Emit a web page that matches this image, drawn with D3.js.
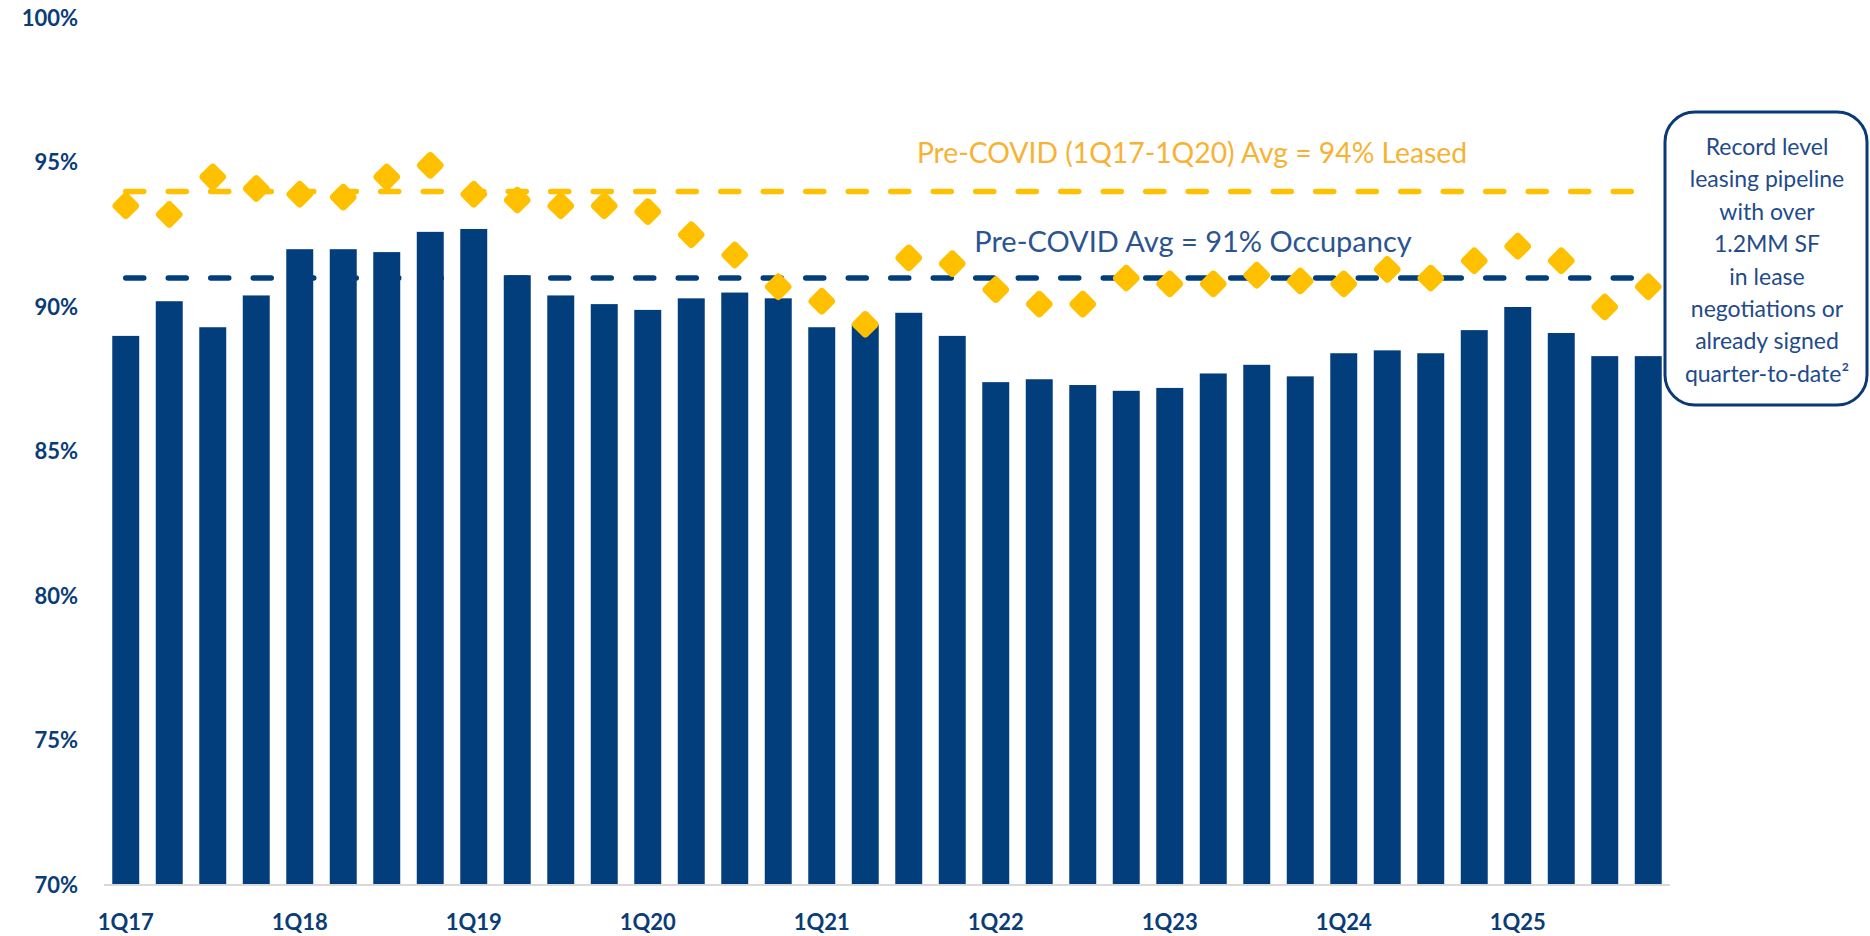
<!DOCTYPE html>
<html>
<head>
<meta charset="utf-8">
<script src="https://cdn.jsdelivr.net/npm/d3@7"></script>
<style>
  body { margin: 0; background: #fff; }
  svg { display: block; font-family: Lato, "Open Sans", sans-serif; }
</style>
</head>
<body>
<div id="chart"></div>
<script>
// Quarters 1Q17 .. 4Q25
const years = ["17", "18", "19", "20", "21", "22", "23", "24", "25"];
const quarters = [];
years.forEach(y => [1, 2, 3, 4].forEach(q => quarters.push(q + "Q" + y)));

// Occupancy (bars), % 
const occupancy = [
    89.0, 90.2, 89.3, 90.4, 92.0, 92.0, 91.9, 92.6,
    92.7, 91.1, 90.4, 90.1, 89.9, 90.3, 90.5, 90.3,
    89.3, 89.4, 89.8, 89.0, 87.4, 87.5, 87.3, 87.1,
    87.2, 87.7, 88.0, 87.6, 88.4, 88.5, 88.4, 89.2,
    90.0, 89.1, 88.3, 88.3
];

// Leased (diamonds), %
const leased = [
    93.5, 93.2, 94.5, 94.1, 93.9, 93.8, 94.5, 94.9,
    93.9, 93.7, 93.5, 93.5, 93.3, 92.5, 91.8, 90.7,
    90.2, 89.4, 91.7, 91.5, 90.6, 90.1, 90.1, 91.0,
    90.8, 90.8, 91.1, 90.9, 90.8, 91.3, 91.0, 91.6,
    92.1, 91.6, 90.0, 90.7
];

const yTicks = [70, 75, 80, 85, 90, 95, 100];
const xLabels = ["1Q17", "1Q18", "1Q19", "1Q20", "1Q21", "1Q22", "1Q23", "1Q24", "1Q25"];

const leasedAvg = 94;
const occupancyAvg = 91;
const leasedAvgLabel = "Pre-COVID (1Q17-1Q20) Avg = 94% Leased";
const occupancyAvgLabel = "Pre-COVID Avg = 91% Occupancy";
const noteLines = [
    "Record level", "leasing pipeline", "with over", "1.2MM SF",
    "in lease", "negotiations or", "already signed", "quarter-to-date\u00b2"
];

const W = 1870, H = 936;
const navy = "#033e7c";
const gold = "#ffc000";

const svg = d3.select("#chart")
    .append("svg")
    .attr("width", W)
    .attr("height", H);

const x = d3.scaleBand()
    .domain(quarters)
    .range([104, 1670])
    .paddingInner(0.38)
    .paddingOuter(0.19);

const y = d3.scaleLinear()
    .domain([70, 100])
    .range([885, 18]);

const cx = d => x(d) + x.bandwidth() / 2;

// y tick labels
svg.append("g")
    .selectAll("text")
    .data(yTicks)
    .enter()
    .append("text")
    .attr("x", 78)
    .attr("y", d => y(d))
    .attr("dy", "0.36em")
    .attr("text-anchor", "end")
    .attr("font-size", 22)
    .attr("font-weight", 700)
    .attr("fill", "#0a3c78")
    .text(d => d + "%");

// x tick labels
svg.append("g")
    .selectAll("text")
    .data(xLabels)
    .enter()
    .append("text")
    .attr("x", d => cx(d))
    .attr("y", 930)
    .attr("text-anchor", "middle")
    .attr("font-size", 22)
    .attr("font-weight", 700)
    .attr("fill", "#0a3c78")
    .text(d => d);

// dashed average lines (behind bars)
const first = quarters[0], last = quarters[quarters.length - 1];
svg.append("line")
    .attr("x1", cx(first)).attr("x2", cx(last))
    .attr("y1", y(leasedAvg)).attr("y2", y(leasedAvg))
    .attr("stroke", gold)
    .attr("stroke-width", 5.5)
    .attr("stroke-linecap", "round")
    .attr("stroke-dasharray", "18,24.5");

svg.append("line")
    .attr("x1", cx(first)).attr("x2", cx(last))
    .attr("y1", y(occupancyAvg)).attr("y2", y(occupancyAvg))
    .attr("stroke", navy)
    .attr("stroke-width", 5.5)
    .attr("stroke-linecap", "round")
    .attr("stroke-dasharray", "18,24.5");

// bars
svg.append("g")
    .selectAll("rect")
    .data(occupancy)
    .enter()
    .append("rect")
    .attr("x", (d, i) => x(quarters[i]))
    .attr("y", d => y(d))
    .attr("width", x.bandwidth())
    .attr("height", d => y(70) - y(d))
    .attr("fill", navy);

// baseline
svg.append("line")
    .attr("x1", 104).attr("x2", 1670)
    .attr("y1", y(70)).attr("y2", y(70))
    .attr("stroke", "#d9d9d9")
    .attr("stroke-width", 2);

// diamonds
svg.append("g")
    .selectAll("rect")
    .data(leased)
    .enter()
    .append("rect")
    .attr("x", -10.5).attr("y", -10.5)
    .attr("width", 21).attr("height", 21)
    .attr("rx", 4)
    .attr("transform", (d, i) => `translate(${cx(quarters[i])},${y(d)}) rotate(45)`)
    .attr("fill", gold);

// average labels
svg.append("text")
    .attr("x", 1192)
    .attr("y", 163)
    .attr("text-anchor", "middle")
    .attr("font-size", 28.3)
    .attr("fill", "#f8b233")
    .text(leasedAvgLabel);

svg.append("text")
    .attr("x", 1193)
    .attr("y", 252)
    .attr("text-anchor", "middle")
    .attr("font-size", 29)
    .attr("fill", "#2b5491")
    .text(occupancyAvgLabel);

// note box
svg.append("rect")
    .attr("x", 1665).attr("y", 112)
    .attr("width", 202).attr("height", 293)
    .attr("rx", 30)
    .attr("fill", "#fff")
    .attr("stroke", "#0a3a75")
    .attr("stroke-width", 3);

svg.append("g")
    .selectAll("text")
    .data(noteLines)
    .enter()
    .append("text")
    .attr("x", 1767)
    .attr("y", (d, i) => 155 + i * 32.4)
    .attr("text-anchor", "middle")
    .attr("font-size", 23)
    .attr("fill", "#1f4b8a")
    .text(d => d);
</script>
</body>
</html>
